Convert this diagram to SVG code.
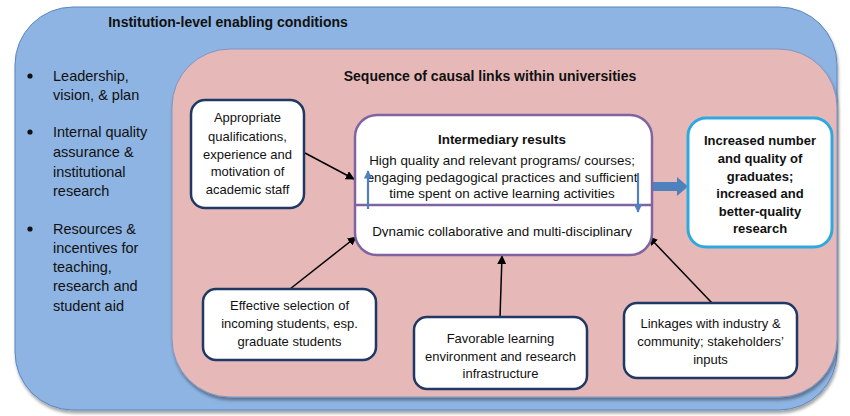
<svg xmlns="http://www.w3.org/2000/svg" width="850" height="416" viewBox="0 0 850 416">
<style>
  text { font-family: "Liberation Sans", Arial, sans-serif; fill: #111; }
  .title { font-size: 14px; font-weight: bold; }
  .list { font-size: 14.5px; }
  .node { font-size: 13px; text-anchor: middle; }
  .mid { font-size: 13.4px; text-anchor: middle; }
  .bold { font-weight: bold; }
  .nbox { fill: #fff; stroke: #1f3864; stroke-width: 2.5; }
  .conn { stroke: #000; stroke-width: 1.5; fill: none; marker-end: url(#ah); }
  .blue { stroke: #4f81bd; stroke-width: 2.2; fill: none; marker-end: url(#bh); }
</style>
<defs>
  <marker id="ah" viewBox="0 0 10 10" refX="9" refY="5" markerWidth="6" markerHeight="6" orient="auto" markerUnits="strokeWidth">
    <path d="M0,0 L10,5 L0,10 z" fill="#000"/>
  </marker>
  <marker id="bh" viewBox="0 0 10 10" refX="9" refY="5" markerWidth="4.2" markerHeight="3.8" orient="auto" markerUnits="strokeWidth">
    <path d="M0,0 L10,5 L0,10 z" fill="#4f81bd"/>
  </marker>
  <filter id="sh" x="-5%" y="-5%" width="110%" height="115%">
    <feDropShadow dx="1" dy="3" stdDeviation="1.5" flood-color="#000" flood-opacity="0.35"/>
  </filter>
  <clipPath id="clipDyn">
    <rect x="356" y="206" width="296" height="31"/>
  </clipPath>
</defs>

<g id="institution-level">
  <rect x="15" y="7" width="822" height="403" rx="58" ry="58" fill="#8db4e2" stroke="#5b86c0" stroke-width="1" filter="url(#sh)"/>
  <text class="title" x="228" y="27" text-anchor="middle">Institution-level enabling conditions</text>
  <g id="enabling-list" class="list">
    <circle cx="30" cy="76" r="2.6" fill="#111"/>
    <text x="53" y="81">Leadership,</text>
    <text x="53" y="100">vision, &amp; plan</text>
    <circle cx="30" cy="132" r="2.6" fill="#111"/>
    <text x="53" y="137">Internal quality</text>
    <text x="53" y="157">assurance &amp;</text>
    <text x="53" y="177">institutional</text>
    <text x="53" y="196">research</text>
    <circle cx="30" cy="229" r="2.6" fill="#111"/>
    <text x="53" y="234">Resources &amp;</text>
    <text x="53" y="253">incentives for</text>
    <text x="53" y="272">teaching,</text>
    <text x="53" y="291">research and</text>
    <text x="53" y="311">student aid</text>
  </g>
</g>

<g id="universities">
  <rect x="172" y="49" width="665" height="348" rx="58" ry="58" fill="#e6b9b8" stroke="#7f95c0" stroke-width="1" filter="url(#sh)"/>
  <text class="title" x="490" y="81" text-anchor="middle">Sequence of causal links within universities</text>
</g>

<g id="connectors">
  <line class="conn" x1="305" y1="153" x2="354" y2="179"/>
  <line class="conn" x1="290" y1="289" x2="356" y2="237"/>
  <line class="conn" x1="500" y1="317" x2="502" y2="256"/>
  <line class="conn" x1="712" y1="303" x2="649" y2="237"/>
  <polygon points="652,182 677,182 677,177 688,186.5 677,196 677,191 652,191" fill="#4f81bd"/>
</g>

<g id="intermediary">
  <rect x="355" y="115" width="297" height="140" rx="22" ry="22" fill="#fff" stroke="#8064a2" stroke-width="2.5"/>
  <text class="mid bold" x="502" y="144">Intermediary results</text>
  <text class="mid" x="502" y="165">High quality and relevant programs/ courses;</text>
  <text class="mid" x="502" y="182">engaging pedagogical practices and sufficient</text>
  <text class="mid" x="502" y="198">time spent on active learning activities</text>
  <line x1="356" y1="205" x2="653" y2="205" stroke="#8064a2" stroke-width="2.5"/>
  <text class="mid" x="502" y="236" clip-path="url(#clipDyn)">Dynamic collaborative and multi-disciplinary</text>
  <line class="blue" x1="368" y1="209" x2="368" y2="171"/>
  <line class="blue" x1="638" y1="173" x2="638" y2="212"/>
</g>

<g id="staff">
  <rect class="nbox" x="191" y="100" width="113" height="108" rx="14" ry="14"/>
  <text class="node" x="247.5" y="122">Appropriate</text>
  <text class="node" x="247.5" y="141">qualifications,</text>
  <text class="node" x="247.5" y="159">experience and</text>
  <text class="node" x="247.5" y="176">motivation of</text>
  <text class="node" x="247.5" y="194">academic staff</text>
</g>

<g id="outcomes">
  <rect x="688" y="118" width="144" height="129" rx="18" ry="18" fill="#fff" stroke="#2ea9df" stroke-width="3"/>
  <text class="node bold" x="760" y="145">Increased number</text>
  <text class="node bold" x="760" y="163">and quality of</text>
  <text class="node bold" x="760" y="181">graduates;</text>
  <text class="node bold" x="760" y="198">increased and</text>
  <text class="node bold" x="760" y="216">better-quality</text>
  <text class="node bold" x="760" y="233">research</text>
</g>

<g id="selection">
  <rect class="nbox" x="203" y="289" width="173" height="71" rx="13" ry="13"/>
  <text class="node" x="289.5" y="310">Effective selection of</text>
  <text class="node" x="289.5" y="328">incoming students, esp.</text>
  <text class="node" x="289.5" y="346">graduate students</text>
</g>

<g id="environment">
  <rect class="nbox" x="414" y="317" width="173" height="72" rx="13" ry="13"/>
  <text class="node" x="500.5" y="343">Favorable learning</text>
  <text class="node" x="500.5" y="361">environment and research</text>
  <text class="node" x="500.5" y="378">infrastructure</text>
</g>

<g id="linkages">
  <rect class="nbox" x="624" y="303" width="173" height="75" rx="13" ry="13"/>
  <text class="node" x="710.5" y="328">Linkages with industry &amp;</text>
  <text class="node" x="710.5" y="346">community; stakeholders’</text>
  <text class="node" x="710.5" y="364">inputs</text>
</g>
</svg>
